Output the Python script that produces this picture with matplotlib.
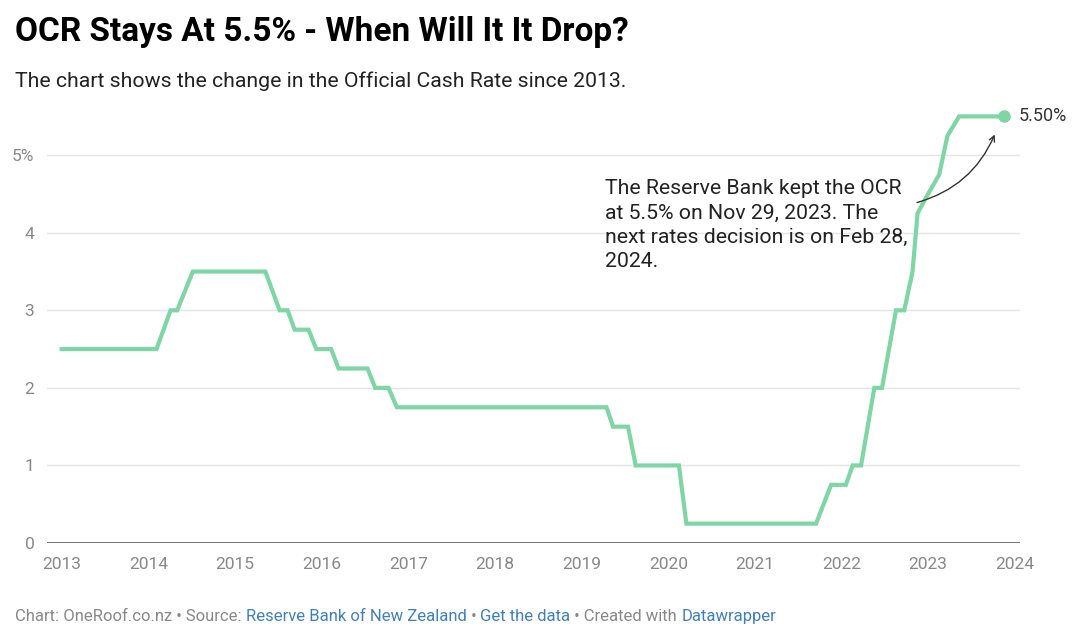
import numpy as np, matplotlib; matplotlib.use("Agg")
import matplotlib.pyplot as plt

plt.rcParams["font.family"] = ["Roboto", "DejaVu Sans"]

# OCR (%)
years = [2013.0, 2014.094, 2014.256, 2014.333, 2014.513, 2015.35, 2015.515, 2015.607,
         2015.688, 2015.849, 2015.938, 2016.11, 2016.195, 2016.529, 2016.618, 2016.771,
         2016.868, 2019.287, 2019.363, 2019.536, 2019.624, 2020.123, 2020.209, 2021.706,
         2021.879, 2022.05, 2022.128, 2022.225, 2022.378, 2022.467, 2022.628, 2022.724,
         2022.819, 2022.877, 2022.973, 2023.127, 2023.222, 2023.357, 2023.876]
rates = [2.5, 2.5, 3.0, 3.0, 3.5, 3.5, 3.0, 3.0, 2.75, 2.75, 2.5, 2.5, 2.25, 2.25, 2.0, 2.0,
         1.75, 1.75, 1.5, 1.5, 1.0, 1.0, 0.25, 0.25, 0.75, 0.75, 1.0, 1.0, 2.0, 2.0, 3.0, 3.0,
         3.5, 4.25, 4.45, 4.75, 5.25, 5.5, 5.5]
xticks = list(range(2013, 2025))
yticks = [0, 1, 2, 3, 4, 5]
ylabels = ["0", "1", "2", "3", "4", "5%"]

title = "OCR Stays At 5.5% - When Will It It Drop?"
subtitle = "The chart shows the change in the Official Cash Rate since 2013."
note = "The Reserve Bank kept the OCR\nat 5.5% on Nov 29, 2023. The\nnext rates decision is on Feb 28,\n2024."
footer = [("Chart: OneRoof.co.nz • Source: ", "grey"), ("Reserve Bank of New Zealand", "blue"),
          (" • ", "grey"), ("Get the data", "blue"), (" • Created with ", "grey"),
          ("Datawrapper", "blue")]

GREEN = "#7dd6a3"; GREY = "#888888"; BLUE = "#3f7fbf"; DARK = "#333333"
COLS = {"grey": GREY, "blue": BLUE}

fig = plt.figure(figsize=(10.8, 6.32), dpi=100)
ax = fig.add_axes([0.0435, 0.1408, 0.901, 0.7057])

ax.plot(years, rates, color=GREEN, lw=3, solid_joinstyle="miter", zorder=3)
ax.plot(years[-1], rates[-1], "o", color=GREEN, ms=8, zorder=4)
ax.text(years[-1] + 0.17, rates[-1], f"{rates[-1]:.2f}%", fontsize=13, color=DARK,
        va="center", ha="left")

ax.set_xlim(2012.83, 2024.06); ax.set_ylim(0, 5.75)
ax.set_yticks(yticks); ax.set_yticklabels(ylabels)
ax.set_xticks(xticks); ax.set_xticklabels([str(y) for y in xticks])
for y in yticks[1:]:
    ax.axhline(y, color="#e5e5e5", lw=1, zorder=1)
ax.axhline(0, color="#666666", lw=2, zorder=2)
for s in ax.spines.values(): s.set_visible(False)
ax.tick_params(axis="both", length=0, labelsize=12.5, labelcolor=GREY)
ax.tick_params(axis="x", pad=10)
ax.tick_params(axis="y", pad=9)
for lab in ax.get_yticklabels(): lab.set_horizontalalignment("right")

# annotation
ax.text(2019.27, 4.69, note, fontsize=15.3, color="#222222", va="top", ha="left", linespacing=1.36)
ax.annotate("", xy=(2023.78, 5.30), xytext=(2022.84, 4.38),
            arrowprops=dict(arrowstyle="->", color=DARK, lw=1, connectionstyle="arc3,rad=0.25"))

fig.text(0.0139, 0.935, title, fontsize=24, fontweight="bold", color="black", va="baseline")
fig.text(0.0139, 0.862, subtitle, fontsize=15.3, color="#222222", va="baseline")

# footer, coloured pieces chained one after another
prev = fig.text(0.0139, 0.018, footer[0][0], fontsize=12, color=COLS[footer[0][1]], va="baseline")
for txt, c in footer[1:]:
    prev = ax.annotate(txt, xy=(1, 0), xycoords=prev, fontsize=12, color=COLS[c],
                       va="bottom", ha="left", annotation_clip=False)

fig.savefig("out.png", dpi=100, facecolor="white")
